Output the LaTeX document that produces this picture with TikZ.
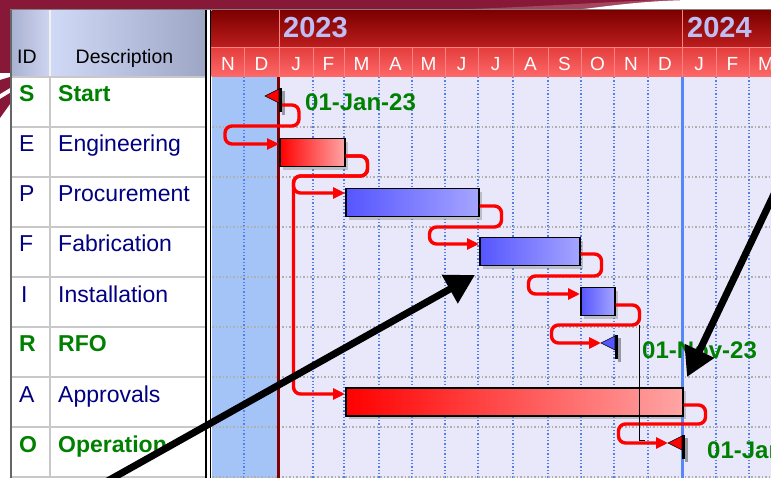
\documentclass[tikz,border=0pt]{standalone}
\usepackage{fontspec}
\setmainfont{Liberation Sans}
\usetikzlibrary{arrows.meta,shadows}
\definecolor{maroon}{RGB}{135,24,56}
\definecolor{maroonlt}{RGB}{165,70,95}
\definecolor{navytxt}{RGB}{0,0,128}
\definecolor{greentxt}{RGB}{0,128,0}
\definecolor{ganttbg}{RGB}{232,232,250}
\definecolor{pastbg}{RGB}{164,196,248}
\definecolor{yeartop}{RGB}{125,0,0}
\definecolor{yearbot}{RGB}{190,30,30}
\definecolor{montop}{RGB}{228,62,62}
\definecolor{monbot}{RGB}{255,105,105}
\definecolor{monsep}{RGB}{255,130,130}
\definecolor{yeartxt}{RGB}{190,190,245}
\definecolor{gridblue}{RGB}{80,128,240}
\definecolor{gridgray}{RGB}{175,175,175}
\definecolor{tablegrid}{RGB}{200,200,200}
\definecolor{startline}{RGB}{130,0,0}
\definecolor{todayline}{RGB}{85,135,250}
\definecolor{redL}{RGB}{255,0,0}
\definecolor{redR}{RGB}{255,165,165}
\definecolor{blueL}{RGB}{85,85,255}
\definecolor{blueR}{RGB}{165,165,255}
\definecolor{hdrIDl}{RGB}{170,178,210}
\definecolor{hdrIDr}{RGB}{205,213,240}
\definecolor{hdrDl}{RGB}{208,218,246}
\definecolor{hdrDr}{RGB}{158,166,198}

\newcommand\msflag[4]{%
  \fill[black,opacity=.35] (#2+3,#3+1) rectangle (#2+6,#3+25);
  \fill[black] (#2,#3-2) rectangle (#2+3,#3+22);
  \filldraw[fill=#4,draw=black,line width=.6pt] (#2,#3-1) -- (#2,#3+13) -- (#2-14,#3+6) -- cycle;
  \coordinate (#1) at (#2-14,#3+6);
  \coordinate (#1out) at (#2+3,#3+15);
}

\begin{document}
\begin{tikzpicture}[x=1pt,y=-1pt,
  idtask/.style={anchor=base west,inner sep=0,text=navytxt,font=\fontsize{23}{23}\selectfont},
  idms/.style={anchor=base west,inner sep=0,text=greentxt,font=\bfseries\fontsize{23}{23}\selectfont},
  hdrtxt/.style={inner sep=0,text=black,font=\fontsize{19.5}{19.5}\selectfont},
  monthtxt/.style={anchor=base,inner sep=0,text=white,font=\fontsize{19}{19}\selectfont},
  yeartext/.style={anchor=base west,inner sep=0,text=yeartxt,font=\bfseries\fontsize{29}{29}\selectfont},
  datelbl/.style={anchor=base west,inner sep=0,text=greentxt,font=\bfseries\fontsize{24}{24}\selectfont},
  barbase/.style={draw=black,line width=1.5pt,inner sep=0,anchor=north west,minimum height=28pt,
     drop shadow={shadow xshift=3pt,shadow yshift=-3pt,opacity=.4}},
  redbar/.style={barbase,left color=redL,right color=redR},
  bluebar/.style={barbase,left color=blueL,right color=blueR},
  link/.style={draw=red,line width=3.4pt,rounded corners=7pt,-{Triangle[length=12pt,width=11pt]}},
  vgrid/.style={draw=gridblue,line width=1.3pt,dotted},
  hgrid/.style={draw=gridgray,line width=1.5pt,dotted},
  bigarrow/.style={draw=black,line width=7pt,-{Triangle[length=29pt,width=31pt]}}
]
\useasboundingbox (0,0) rectangle (771,478);
\clip (0,0) rectangle (771,478);
\fill[white] (0,0) rectangle (771,478);

% slide background swoosh
\fill[maroon] (0,0) rectangle (771,10);
\fill[maroonlt] (440,10) .. controls (540,7) and (600,2) .. (660,0) -- (771,0) -- (771,10) -- cycle;
\fill[white] (575,10) .. controls (610,6) and (640,1) .. (690,0) -- (771,0) -- (771,10) -- cycle;
\fill[maroon] (0,0) rectangle (10,73);
\fill[maroon] (0,80) -- (10,77) -- (10,88) -- (0,94) -- cycle;
\fill[maroon] (0,99) -- (10,93) -- (10,104) -- (0,118) -- cycle;

% frame
\draw[gray,line width=1.5pt] (10,9.5) -- (771,9.5);
\draw[gray!80!black,line width=2pt] (11,10) -- (11,478);

% ---------- table ----------
\fill[white] (12,77) rectangle (205,478);
\shade[left color=hdrIDl,right color=hdrIDr] (12,10.5) rectangle (50,77);
\shade[left color=hdrDl,right color=hdrDr] (50,10.5) rectangle (205,77);
\draw[white!90!gray,line width=1.5pt] (50,10.5) -- (50,77);
\draw[tablegrid,line width=1.5pt] (12,77) -- (205,77);
\draw[tablegrid,line width=1.5pt] (50,77) -- (50,478);
\foreach \y in {127,177,227,277,327,377,427,477}
  \draw[tablegrid,line width=1.5pt] (12,\y) -- (205,\y);
\draw[black,line width=1.5pt] (206,10) -- (206,478);
\draw[black,line width=1.5pt] (210.5,10) -- (210.5,478);

\node[hdrtxt,anchor=base west] (hid) at (17,64) {ID};
\node[hdrtxt,anchor=base] (hdesc) at (124.5,64) {Description};

\node[idms] (idS) at (19,102) {S};      \node[idms] (dS) at (58,102) {Start};
\node[idtask] (idE) at (19,152) {E};    \node[idtask] (dE) at (58,152) {Engineering};
\node[idtask] (idP) at (19,202) {P};    \node[idtask] (dP) at (58,202) {Procurement};
\node[idtask] (idF) at (19,252) {F};    \node[idtask] (dF) at (58,252) {Fabrication};
\node[idtask] (idI) at (21,302) {I};    \node[idtask] (dI) at (58,302) {Installation};
\node[idms] (idR) at (19,352) {R};      \node[idms] (dR) at (58,352) {RFO};
\node[idtask] (idA) at (19,402) {A};    \node[idtask] (dA) at (58,402) {Approvals};
\node[idms] (idO) at (19,452) {O};      \node[idms] (dO) at (58,452) {Operation};

% ---------- gantt area ----------
\fill[ganttbg] (212,77) rectangle (771,478);
\fill[pastbg] (212,77) rectangle (278,478);
\foreach \x in {244,313,344,379,412,445,478,513,548,581,614,648,716,749}
  \draw[vgrid] (\x,77) -- (\x,478);
\foreach \y in {127,177,227,277,327,377,427,477}
  \draw[hgrid] (212,\y) -- (771,\y);
\draw[startline,line width=3pt] (278.5,77) -- (278.5,478);
\draw[todayline,line width=3pt] (682,77) -- (682,478);

% header
\shade[top color=yeartop,bottom color=yearbot] (211.5,10.5) rectangle (771,48);
\shade[top color=montop,bottom color=monbot] (211.5,48) rectangle (771,77);
\draw[monsep,line width=1pt] (211.5,48) -- (771,48);
\draw[monsep,line width=1pt] (279,10.5) -- (279,48);
\draw[monsep,line width=1pt] (682,10.5) -- (682,48);
\foreach \x in {244,279,313,344,379,412,445,478,513,548,581,614,648,682,716,749}
  \draw[monsep,line width=1pt] (\x,48) -- (\x,77);
\foreach \a/\b/\m [count=\k] in {212/244/N,244/279/D,279/313/J,313/344/F,344/379/M,379/412/A,412/445/M,445/478/J,478/513/J,513/548/A,548/581/S,581/614/O,614/648/N,648/682/D,682/716/J,716/749/F,749/783/M}
  \node[monthtxt] (mon\k) at ({(\a+\b)/2},71) {\m};
\node[yeartext] (y23) at (283,38) {2023};
\node[yeartext] (y24) at (687,38) {2024};

% bars
\node[redbar,minimum width=65pt] (E) at (279,138) {};
\node[bluebar,minimum width=133pt] (P) at (345,188) {};
\node[bluebar,minimum width=100pt] (F) at (479,237) {};
\node[bluebar,minimum width=34pt] (I) at (580,287) {};
\node[redbar,minimum width=337pt] (A) at (345,387) {};

% milestones
\msflag{S}{279}{90}{red}
\msflag{R}{615}{337}{blueL}
\msflag{O}{682}{437}{red}
\node[datelbl] (lS) at (305,111) {01-Jan-23};
\node[datelbl] (lR) at (642,358) {01-Nov-23};
\node[datelbl] (lO) at (707,458) {01-Jan-24};

% links
\draw[link] (Sout) -- ++(17,0) -- ++(0,21) -- ++(-74,0) |- ([shift={(0,6)}]E.north west);
\draw[link] ([shift={(0,18)}]E.north east) -- ++(22,0) -- ++(0,20) -- ++(-74,0) |- ([shift={(0,7)}]A.north west);
\draw[link] ([shift={(0,18)}]E.north east) -- ++(22,0) -- ++(0,20) -- ++(-74,0) |- ([shift={(0,5)}]P.north west);
\draw[link] ([shift={(0,18)}]P.north east) -- ++(22,0) -- ++(0,21) -- ++(-72,0) |- ([shift={(0,7)}]F.north west);
\draw[link] ([shift={(0,17)}]F.north east) -- ++(21,0) -- ++(0,22) -- ++(-73,0) |- ([shift={(0,7)}]I.north west);
\draw[link] ([shift={(0,18)}]I.north east) -- ++(24,0) -- ++(0,20) coordinate (IRj) -- ++(-88,0) |- (R);
\draw[link] ([shift={(0,18)}]A.north east) -- ++(22,0) -- ++(0,19) -- ++(-87,0) |- (O);
\draw[black,line width=1pt] (IRj) -- ++(0,115) -- ++(5,0);

% callout arrows
\coordinate (c1s) at (95,488);
\coordinate (c1e) at (475,275);
\coordinate (c2s) at (795,150);
\coordinate (c2e) at (687,377);
\draw[bigarrow] (c1s) -- (c1e);
\draw[bigarrow] (c2s) -- (c2e);
\end{tikzpicture}
\end{document}
